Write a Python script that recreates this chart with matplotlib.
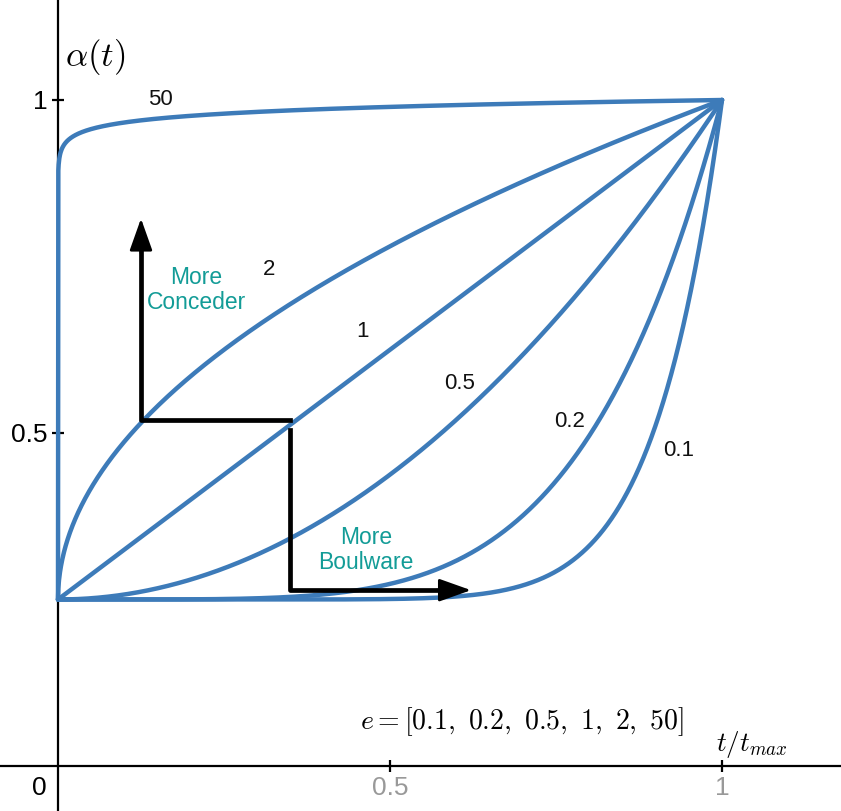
import numpy as np
import matplotlib.pyplot as plt

plt.rcParams['mathtext.fontset'] = 'cm'
plt.rcParams['font.family'] = ['Liberation Sans', 'DejaVu Sans']

# concession exponents shown in the chart and the reserve level k
e_values = [0.1, 0.2, 0.5, 1, 2, 50]
k = 0.25
curve_labels = ['0.1', '0.2', '0.5', '1', '2', '50']
label_pos = [(0.935, 0.473), (0.771, 0.518), (0.605, 0.574),
             (0.459, 0.653), (0.318, 0.745), (0.154, 1.0)]

blue = '#3d7bb9'
teal = '#139c97'

fig = plt.figure(figsize=(8.41, 8.11), dpi=100)
ax = fig.add_axes([0, 0, 1, 1])
ax.set_xlim(-58 / 664, 783 / 664)
ax.set_ylim(-45 / 666, 766 / 666)

t = np.linspace(0, 1, 2000)
for e in e_values:
    a = k + (1 - k) * t ** (1 / e)
    ax.plot(t, a, color=blue, lw=3.2, solid_capstyle='round', zorder=3)

for lab, (x, y) in zip(curve_labels, label_pos):
    ax.text(x, y, lab, fontsize=16, ha='center', va='center', color='#111111')

# axes through the origin
for s in ['top', 'right']:
    ax.spines[s].set_visible(False)
ax.spines['left'].set_position(('data', 0))
ax.spines['bottom'].set_position(('data', 0))
ax.spines['left'].set_linewidth(1.6)
ax.spines['bottom'].set_linewidth(1.6)
ax.spines['left'].set_zorder(1)

ax.set_xticks([0.5, 1])
ax.set_xticklabels(['0.5', '1'], color='#999999', fontsize=19)
ax.set_yticks([0.5, 1])
ax.set_yticklabels(['0.5', '1'], fontsize=19)
ax.tick_params(direction='inout', length=9, width=1.6, pad=3)
ax.tick_params(axis='x', pad=3)
ax.text(-0.028, -0.033, '0', fontsize=19, ha='center', va='center')

ax.text(0.056, 1.065, r'$\alpha(t)$', fontsize=25, ha='center', va='center')
ax.text(1.045, 0.032, r'$t/t_{max}$', fontsize=19.5, ha='center', va='center')
ax.text(0.699, 0.066, r'$e = [0.1,\ 0.2,\ 0.5,\ 1,\ 2,\ 50]$', fontsize=20,
        ha='center', va='center')

# conceder / boulware arrows
head = '-|>,head_length=0.9,head_width=0.32'
ax.plot([0.349, 0.125, 0.125], [0.52, 0.52, 0.78], color='black', lw=3.4,
        solid_joinstyle='round', zorder=4)
ax.annotate('', xy=(0.125, 0.822), xytext=(0.125, 0.77),
            arrowprops=dict(arrowstyle=head, color='black', lw=2,
                            mutation_scale=22, shrinkA=0, shrinkB=0), zorder=4)
ax.plot([0.349, 0.349, 0.58], [0.505, 0.264, 0.264], color='black', lw=3.4,
        solid_joinstyle='round', zorder=4)
ax.annotate('', xy=(0.622, 0.264), xytext=(0.57, 0.264),
            arrowprops=dict(arrowstyle=head, color='black', lw=2,
                            mutation_scale=22, shrinkA=0, shrinkB=0), zorder=4)

ax.text(0.208, 0.715, 'More\nConceder', color=teal, fontsize=16.5,
        ha='center', va='center', linespacing=1.1)
ax.text(0.464, 0.324, 'More\nBoulware', color=teal, fontsize=16.5,
        ha='center', va='center', linespacing=1.1)

fig.savefig('out.png', dpi=100)
